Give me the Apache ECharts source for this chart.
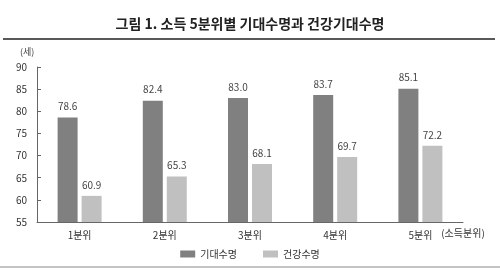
<!DOCTYPE html>
<html><head><meta charset="utf-8">
<script src="https://cdn.jsdelivr.net/npm/echarts@6/dist/echarts.min.js"></script>
<style>html,body{margin:0;padding:0;background:#fff}#c{width:500px;height:270px}</style>
</head><body><div id="c"></div>
<script>
const categories = ['1분위','2분위','3분위','4분위','5분위'];
const lifeExpectancy = [78.6, 82.4, 83.0, 83.7, 85.1];
const healthyLife = [60.9, 65.3, 68.1, 69.7, 72.2];
const seriesNames = ['기대수명','건강수명'];
const FONT = '"Noto Sans CJK KR", "Noto Sans", sans-serif';
const chart = echarts.init(document.getElementById('c'));
chart.setOption({
  backgroundColor: '#fff',
  animation: false,
  textStyle: {fontFamily: FONT},
  title: {
    text: '그림 1. 소득 5분위별 기대수명과 건강기대수명',
    left: 'center', top: 12,
    textStyle: {fontFamily: FONT, fontSize: 14, fontWeight: 'bold', color: '#222'}
  },
  graphic: [
    {type: 'line', shape: {x1: 3, y1: 39, x2: 495, y2: 39}, style: {stroke: '#222', lineWidth: 1.5}},
    {type: 'line', shape: {x1: 0, y1: 267, x2: 500, y2: 267}, style: {stroke: '#888', lineWidth: 1}},
    {type: 'text', left: 20, top: 47, style: {text: '(세)', font: '9px ' + FONT, fill: '#444'}},
    {type: 'text', x: 463, y: 233, style: {text: '(소득분위)', font: '10px ' + FONT, fill: '#333', textAlign: 'center', textVerticalAlign: 'middle'}}
  ],
  legend: {
    data: seriesNames, top: 244, left: 'center',
    itemWidth: 15, itemHeight: 7, itemGap: 26, icon: 'rect',
    textStyle: {fontFamily: FONT, fontSize: 10, color: '#333'}
  },
  grid: {left: 37, right: 37, top: 67, bottom: 48},
  xAxis: {
    type: 'category', data: categories,
    axisLine: {lineStyle: {color: '#666'}},
    axisTick: {inside: true, length: 4, lineStyle: {color: '#666'}},
    axisLabel: {fontFamily: FONT, fontSize: 10, color: '#333', margin: 8}
  },
  yAxis: {
    type: 'value', min: 55, max: 90, interval: 5,
    axisLine: {show: true, lineStyle: {color: '#666'}},
    axisTick: {show: true, inside: true, length: 4, lineStyle: {color: '#666'}},
    splitLine: {show: false},
    axisLabel: {fontFamily: FONT, fontSize: 10, color: '#333', margin: 10}
  },
  series: [
    {name: seriesNames[0], type: 'bar', data: lifeExpectancy, barWidth: 20, barGap: '20%',
     itemStyle: {color: '#808080'},
     label: {show: true, position: 'top', formatter: p => p.value.toFixed(1), fontFamily: FONT, fontSize: 10, color: '#444', distance: 6}},
    {name: seriesNames[1], type: 'bar', data: healthyLife, barWidth: 20,
     itemStyle: {color: '#c0c0c0'},
     label: {show: true, position: 'top', formatter: p => p.value.toFixed(1), fontFamily: FONT, fontSize: 10, color: '#444', distance: 6}}
  ]
});
</script></body></html>
